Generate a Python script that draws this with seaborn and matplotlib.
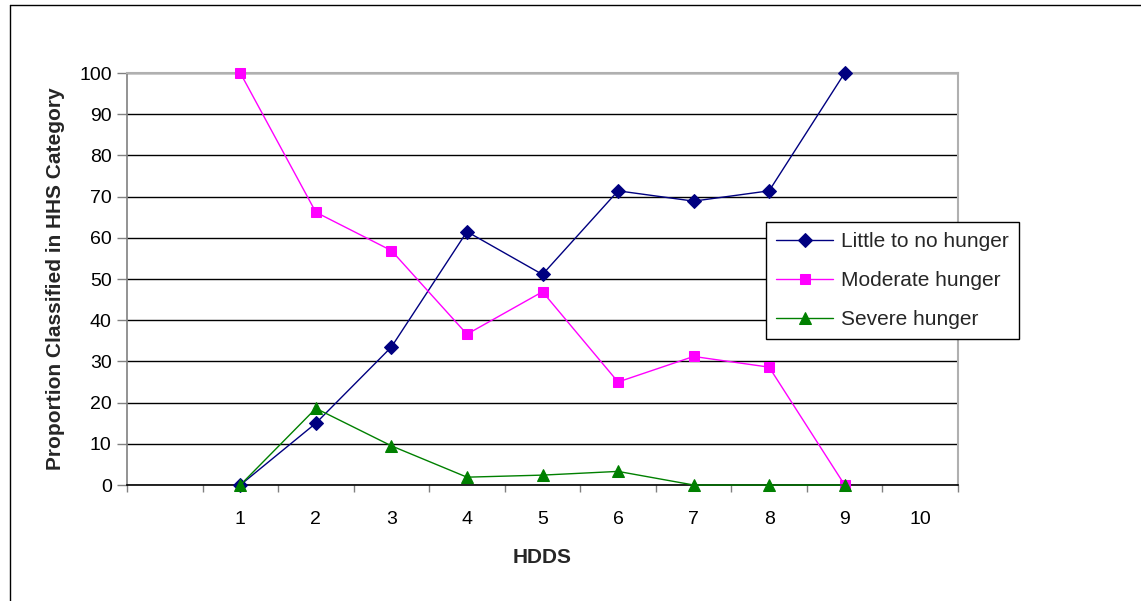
import matplotlib
matplotlib.use("Agg")
import matplotlib.pyplot as plt
from matplotlib.lines import Line2D
import seaborn as sns
import pandas as pd

# ---- data ----
hdds_labels = ["", "1", "2", "3", "4", "5", "6", "7", "8", "9", "10"]
hdds = [1, 2, 3, 4, 5, 6, 7, 8, 9]
little = [0, 15.0, 33.5, 61.5, 51.1, 71.4, 68.9, 71.4, 100]
moderate = [100, 66.2, 56.9, 36.6, 46.9, 25.0, 31.2, 28.6, 0]
severe = [0, 18.6, 9.5, 1.9, 2.4, 3.3, 0, 0, 0]
series_names = ["Little to no hunger", "Moderate hunger", "Severe hunger"]

rows = []
for name, vals in zip(series_names, [little, moderate, severe]):
    for x, v in zip(hdds, vals):
        rows.append({"HDDS": x, "value": v, "series": name})
df = pd.DataFrame(rows)

sns.set_theme(style="white")
plt.rcParams["font.family"] = ["Liberation Sans", "DejaVu Sans"]

W, H = 1141, 601
fig = plt.figure(figsize=(W / 100, H / 100), dpi=100)
ax = fig.add_axes([127 / W, 1 - 485 / H, (958 - 127) / W, (485 - 73) / H])

colors = {"Little to no hunger": "#000080", "Moderate hunger": "#FF00FF", "Severe hunger": "#008000"}
markers = {"Little to no hunger": "D", "Moderate hunger": "s", "Severe hunger": "^"}
msize = {"Little to no hunger": 7.5, "Moderate hunger": 7.5, "Severe hunger": 9}

for name in series_names:
    sub = df[df["series"] == name]
    sns.lineplot(data=sub, x="HDDS", y="value", ax=ax, color=colors[name],
                 marker=markers[name], markersize=msize[name],
                 markeredgecolor=colors[name], linewidth=1, label=name,
                 errorbar=None, zorder=3, clip_on=False)

ax.set_xlim(-0.5, 10.5)
ax.set_ylim(0, 100)
ax.set_yticks(range(0, 101, 10))
ax.set_xticks(range(0, 11))
ax.set_xticklabels(hdds_labels)
ax.set_xticks([i - 0.5 for i in range(12)], minor=True)
ax.tick_params(axis="x", which="major", length=0, pad=18.5, labelsize=14, colors="black")
ax.tick_params(axis="x", which="minor", length=5, width=1, color="#808080", direction="out", bottom=True)
ax.tick_params(axis="y", which="major", length=7, width=1, color="#808080", direction="out", left=True,
               pad=4, labelsize=14, labelcolor="black")

ax.yaxis.grid(True, color="black", linewidth=1)
ax.set_axisbelow(True)
for s in ["top", "right"]:
    ax.spines[s].set_color("#b0b0b0")
    ax.spines[s].set_linewidth(1.5)
for s in ["left", "bottom"]:
    ax.spines[s].set_color("#808080")
    ax.spines[s].set_linewidth(1.2)
ax.spines["bottom"].set_color("black")

ax.set_xlabel("HDDS", fontsize=15, fontweight="bold", labelpad=14.5)
ax.set_ylabel("Proportion Classified in HHS Category", fontsize=15, fontweight="bold", labelpad=10)

leg = ax.legend(loc="upper left", bbox_to_anchor=(766 / W, 1 - 222 / H),
                bbox_transform=fig.transFigure, borderaxespad=0, frameon=True,
                fancybox=False, shadow=False, fontsize=15, handlelength=2.7,
                labelspacing=0.95, borderpad=0.5, handletextpad=0.4)
leg.get_frame().set_edgecolor("black")
leg.get_frame().set_linewidth(1)
leg.get_frame().set_facecolor("white")
leg.get_frame().set_alpha(1)

# outer chart-area border (top and left edges visible)
fig.add_artist(Line2D([10 / W, 1], [1 - 5 / H, 1 - 5 / H], transform=fig.transFigure, color="black", linewidth=1))
fig.add_artist(Line2D([10 / W, 10 / W], [0, 1 - 5 / H], transform=fig.transFigure, color="black", linewidth=1))

fig.savefig("out.png", dpi=100, facecolor="white")
